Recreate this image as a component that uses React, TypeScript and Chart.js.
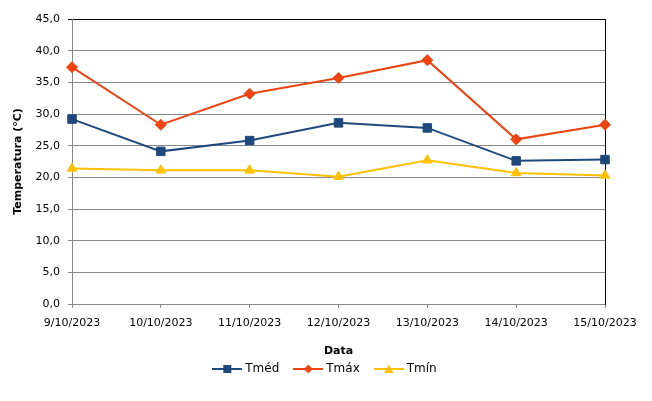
import { useEffect, useRef } from "react";
import { Chart, registerables } from "chart.js";

Chart.register(...registerables);

const dates = ["9/10/2023", "10/10/2023", "11/10/2023", "12/10/2023", "13/10/2023", "14/10/2023", "15/10/2023"];
const tMed = [29.2, 24.1, 25.8, 28.6, 27.8, 22.6, 22.8];
const tMax = [37.4, 28.3, 33.2, 35.7, 38.5, 26.0, 28.3];
const tMin = [21.4, 21.1, 21.1, 20.1, 22.7, 20.7, 20.3];

const FONT = "'DejaVu Sans', Verdana, sans-serif";
const GRID = "#888888";

// small line + marker picture for the legend entries
function legendIcon(color: string, shape: "rect" | "rectRot" | "triangle") {
   const c = document.createElement("canvas");
   c.width = 30;
   c.height = 12;
   const ctx = c.getContext("2d")!;
   ctx.strokeStyle = color;
   ctx.fillStyle = color;
   ctx.lineWidth = 2;
   ctx.beginPath();
   ctx.moveTo(0, 6);
   ctx.lineTo(30, 6);
   ctx.stroke();
   ctx.beginPath();
   if (shape === "rect") {
      ctx.rect(11, 2, 8, 8);
   } else if (shape === "rectRot") {
      ctx.moveTo(15, 1.5);
      ctx.lineTo(19.5, 6);
      ctx.lineTo(15, 10.5);
      ctx.lineTo(10.5, 6);
   } else {
      ctx.moveTo(15, 1.5);
      ctx.lineTo(19.5, 10);
      ctx.lineTo(10.5, 10);
   }
   ctx.closePath();
   ctx.fill();
   return c;
}

export default function App() {
   const canvasRef = useRef<HTMLCanvasElement | null>(null);
   const chartRef = useRef<Chart | null>(null);

   useEffect(() => {
      document.body.style.margin = "0";
      if (!canvasRef.current) return;
      chartRef.current?.destroy();

      const series = [
         { label: "Tméd", data: tMed, color: "#1F497D", style: "rect" as const, radius: 6 },
         { label: "Tmáx", data: tMax, color: "#EE4412", style: "rectRot" as const, radius: 5.5 },
         { label: "Tmín", data: tMin, color: "#FFC000", style: "triangle" as const, radius: 5.5 },
      ];
      const icons = series.map((s) => legendIcon(s.color, s.style));

      chartRef.current = new Chart(canvasRef.current, {
         type: "line",
         data: {
            labels: dates,
            datasets: series.map((s) => ({
               label: s.label,
               data: s.data,
               borderColor: s.color,
               backgroundColor: s.color,
               borderWidth: 2,
               tension: 0,
               pointStyle: s.style,
               pointRadius: s.radius,
               pointBorderWidth: 1,
               pointBackgroundColor: s.color,
               pointBorderColor: s.color,
            })),
         },
         options: {
            responsive: false,
            animation: false,
            layout: { padding: { top: 19, left: 0, right: 0, bottom: 16 } },
            scales: {
               x: {
                  offset: false,
                  grid: { display: true, drawOnChartArea: false, drawTicks: true, tickLength: 4, color: GRID },
                  border: { display: true, color: GRID },
                  ticks: {
                     maxRotation: 0,
                     autoSkip: false,
                     padding: 9,
                     color: "#000",
                     font: { family: FONT, size: 11 },
                  },
                  title: {
                     display: true,
                     text: "Data",
                     color: "#000",
                     font: { family: FONT, size: 11, weight: "bold" },
                     padding: { top: 0, bottom: -11.6 },
                  },
                  afterFit: (scale) => {
                     scale.height = 42;
                  },
               },
               y: {
                  min: 0,
                  max: 45,
                  grid: {
                     color: (ctx) => (ctx.tick && ctx.tick.value === 45 ? "#000" : GRID),
                     tickLength: 4,
                  },
                  border: { display: true, color: GRID },
                  ticks: {
                     stepSize: 5,
                     padding: 8,
                     color: "#000",
                     font: { family: FONT, size: 11 },
                     callback: (v) => Number(v).toFixed(1).replace(".", ","),
                  },
                  title: {
                     display: true,
                     text: "Temperatura (°C)",
                     color: "#000",
                     font: { family: FONT, size: 11, weight: "bold" },
                     padding: { top: 11.4, bottom: 0 },
                  },
                  afterFit: (scale) => {
                     scale.width = 72;
                  },
               },
               y2: {
                  position: "right",
                  grid: { display: false },
                  ticks: { display: false },
                  border: { display: true, color: "#000" },
                  afterFit: (scale) => {
                     scale.width = 47;
                  },
               },
            },
            plugins: {
               legend: {
                  position: "bottom",
                  labels: {
                     usePointStyle: true,
                     pointStyleWidth: 24,
                     padding: 17,
                     color: "#000",
                     font: { family: FONT, size: 12 },
                     generateLabels: (chart) =>
                        chart.data.datasets.map((ds, i) => ({
                           text: ds.label as string,
                           datasetIndex: i,
                           pointStyle: icons[i],
                           fillStyle: series[i].color,
                           strokeStyle: series[i].color,
                           lineWidth: 0,
                           hidden: false,
                        })),
                  },
               },
               tooltip: { enabled: false },
            },
         },
      });

      return () => {
         chartRef.current?.destroy();
      };
   }, []);

   return (
      <div style={{ width: 652, height: 401 }}>
         <canvas ref={canvasRef} width={652} height={401} />
      </div>
   );
}
